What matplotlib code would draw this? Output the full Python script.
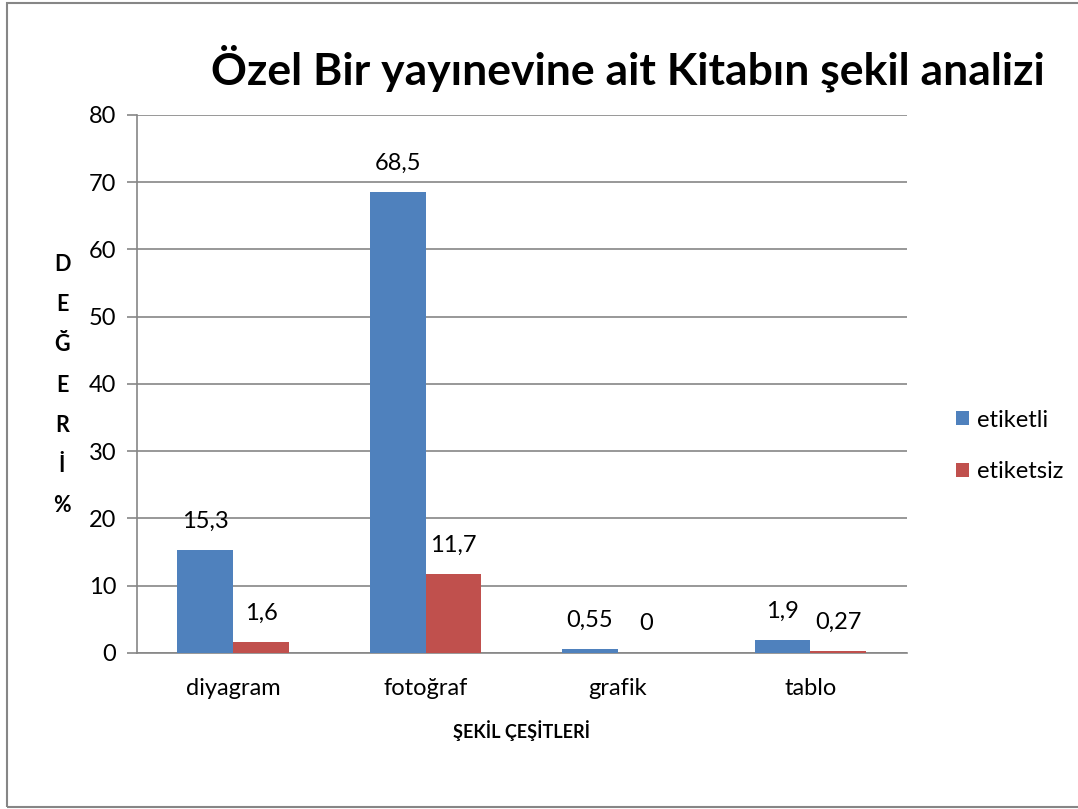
import matplotlib.pyplot as plt
import numpy as np
from matplotlib.patches import Rectangle

plt.rcParams['font.family'] = ['Lato', 'DejaVu Sans']

# Data
categories = ['diyagram', 'fotoğraf', 'grafik', 'tablo']
etiketli = [15.3, 68.5, 0.55, 1.9]
etiketsiz = [1.6, 11.7, 0, 0.27]
etiketli_labels = ['15,3', '68,5', '0,55', '1,9']
etiketsiz_labels = ['1,6', '11,7', '0', '0,27']

fig = plt.figure(figsize=(10.78, 8.09), dpi=100)
ax = fig.add_axes([0.127, 0.193, 0.714, 0.665])

# outer chart border
fig.patches.append(Rectangle((7 / 1078, 2 / 809), 1.2, 804 / 809, transform=fig.transFigure,
                             fill=False, edgecolor='#868686', linewidth=1.5))

x = np.arange(len(categories))
w = 0.29
b1 = ax.bar(x - w / 2, etiketli, w, color='#4f81bd', label='etiketli', zorder=3)
b2 = ax.bar(x + w / 2, etiketsiz, w, color='#c0504d', label='etiketsiz', zorder=3)

for bars, labels in ((b1, etiketli_labels), (b2, etiketsiz_labels)):
    for rect, lab in zip(bars, labels):
        ax.text(rect.get_x() + rect.get_width() / 2, rect.get_height() + 4.3, lab,
                ha='center', va='center', fontsize=17, color='black')

ax.set_xlim(-0.5, 3.5)
ax.set_ylim(0, 80)
ax.set_yticks(range(0, 81, 10))
ax.set_xticks(x)
ax.set_xticklabels(categories, fontsize=17)
ax.tick_params(axis='x', length=0, pad=18)
ax.tick_params(axis='y', length=7, width=1.2, color='#868686', labelsize=17, pad=8)
ax.grid(axis='y', color='#868686', linewidth=1.2, zorder=0)
for side in ('top', 'right'):
    ax.spines[side].set_visible(False)
ax.spines['left'].set_color('#868686')
ax.spines['left'].set_linewidth(1.2)
ax.spines['bottom'].set_color('#868686')
ax.spines['bottom'].set_linewidth(1.2)

ax.set_xlabel('ŞEKİL ÇEŞİTLERİ', fontsize=13, fontweight='bold', labelpad=15)
fig.text(62 / 1078, 1 - 385 / 809, 'D\nE\nĞ\nE\nR\nİ\n%', ha='center', va='center',
         fontsize=15.5, fontweight='bold', linespacing=2.12)

fig.text(628 / 1078, 1 - 68 / 809, 'Özel Bir yayınevine ait Kitabın şekil analizi',
         ha='center', va='center', fontsize=32, fontweight='bold')

ax.legend(loc='center left', bbox_to_anchor=(935 / 1078, 1 - 446 / 809),
          bbox_transform=fig.transFigure, frameon=False, fontsize=17,
          handlelength=0.55, handleheight=0.55, handletextpad=0.35, labelspacing=1.3)

fig.savefig('out.png', dpi=100)
